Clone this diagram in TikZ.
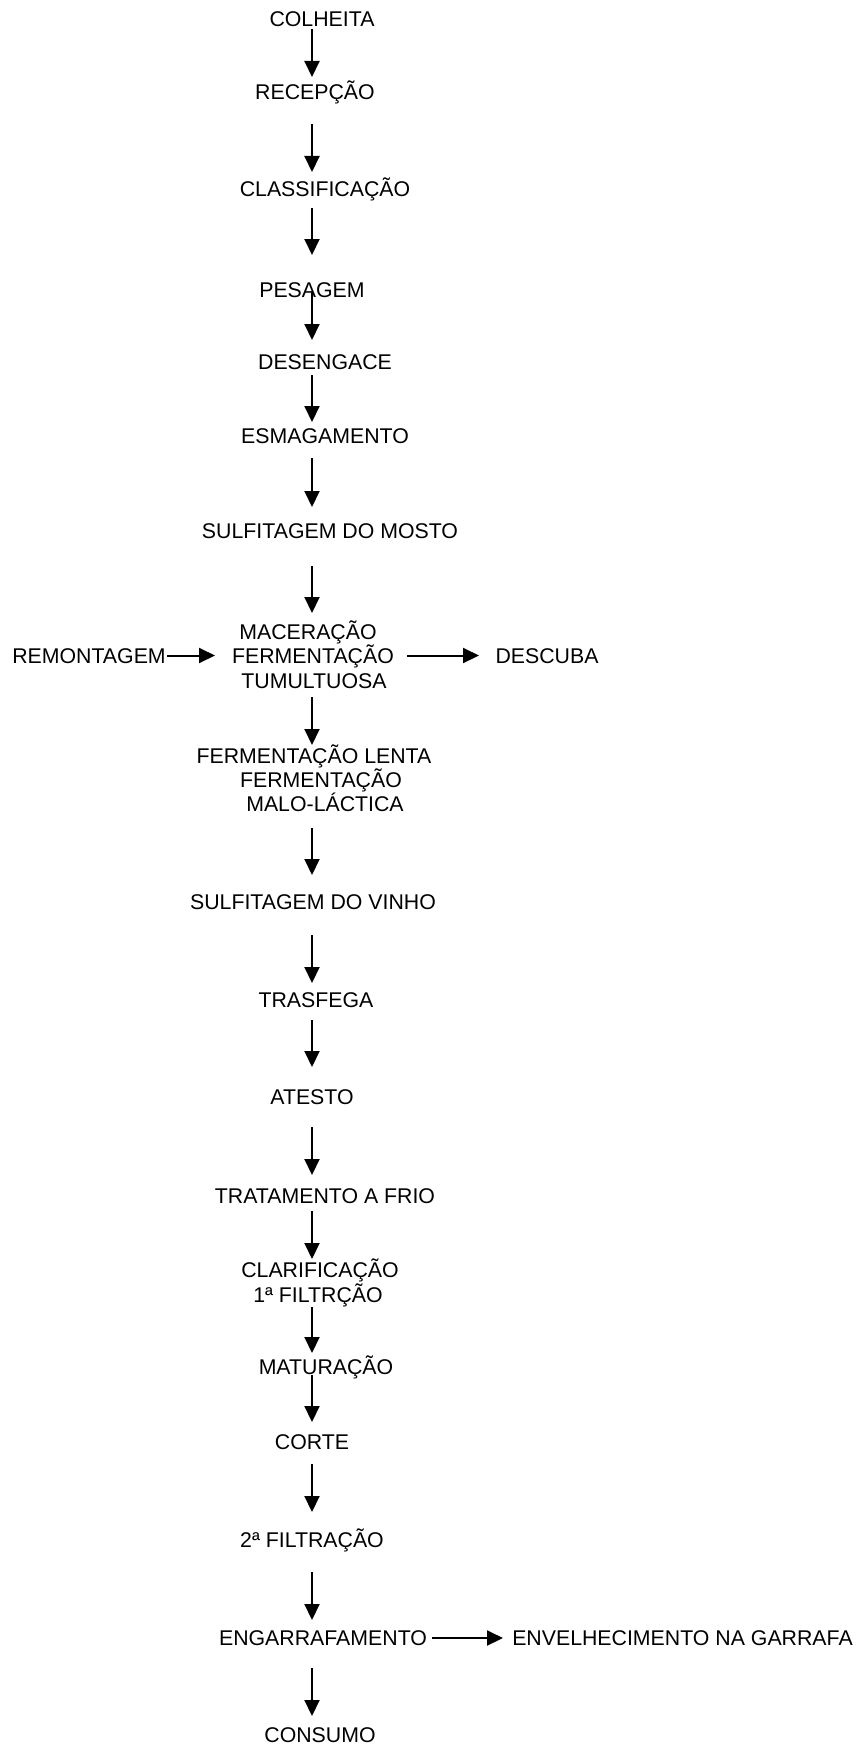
\documentclass[tikz,border=0pt]{standalone}
\usepackage{fontspec}
\setmainfont{Liberation Sans}
\usetikzlibrary{arrows.meta}
\begin{document}
\begin{tikzpicture}[x=1pt,y=1pt,
  lbl/.style={anchor=base,inner sep=0pt,outer sep=0pt,font=\fontsize{21.3}{24}\selectfont},
  arr/.style={line width=2pt,-{Triangle[length=16pt,width=15pt]}}]
\useasboundingbox (0,0) rectangle (858,-1747);
% text nodes (baseline = cap centre + 7.5)
\node[lbl] (colheita) at (322,-26.5) {COLHEITA};
\node[lbl] (recepcao) at (315,-99.5) {RECEPÇÃO};
\node[lbl] (classif) at (325,-196.5) {CLASSIFICAÇÃO};
\node[lbl] (pesagem) at (312,-297.5) {PESAGEM};
\node[lbl] (desengace) at (325,-369.5) {DESENGACE};
\node[lbl] (esmag) at (325,-443.5) {ESMAGAMENTO};
\node[lbl] (sulfmosto) at (330,-538.5) {SULFITAGEM DO MOSTO};
\node[lbl] (mac1) at (308,-639.5) {MACERAÇÃO};
\node[lbl] (mac2) at (313,-663.5) {FERMENTAÇÃO};
\node[lbl] (mac3) at (314,-688) {TUMULTUOSA};
\node[lbl] (remont) at (89,-663.5) {REMONTAGEM};
\node[lbl] (descuba) at (547,-663.5) {DESCUBA};
\node[lbl] (fl1) at (314,-763.5) {FERMENTAÇÃO LENTA};
\node[lbl] (fl2) at (321,-787.5) {FERMENTAÇÃO};
\node[lbl] (fl3) at (325,-811.5) {MALO-LÁCTICA};
\node[lbl] (sulfvinho) at (313,-909) {SULFITAGEM DO VINHO};
\node[lbl] (trasfega) at (316,-1007) {TRASFEGA};
\node[lbl] (atesto) at (312,-1104.5) {ATESTO};
\node[lbl] (tratam) at (325,-1203.5) {TRATAMENTO A FRIO};
\node[lbl] (cl1) at (320,-1277.5) {CLARIFICAÇÃO};
\node[lbl] (cl2) at (318,-1302) {1ª FILTRÇÃO};
\node[lbl] (matur) at (326,-1374.5) {MATURAÇÃO};
\node[lbl] (corte) at (312,-1449.5) {CORTE};
\node[lbl] (filt2) at (312,-1547) {2ª FILTRAÇÃO};
\node[lbl] (engarr) at (323,-1645) {ENGARRAFAMENTO};
\node[lbl] (envelh) at (682.5,-1645) {ENVELHECIMENTO NA GARRAFA};
\node[lbl] (consumo) at (320,-1742.5) {CONSUMO};
% connector end points
\foreach \n/\a/\b in {1/29/77, 2/124/172, 3/208/255, 4/292/340, 5/375/422,
  6/458/507, 7/566/613, 8/697/745, 9/828/875, 10/935/983, 11/1020/1067,
  12/1127/1175, 13/1211/1259, 14/1307/1353, 15/1375/1422, 16/1464/1512,
  17/1572/1620, 18/1668/1716}{
  \coordinate (s\n) at (312,-\a);
  \coordinate (e\n) at (312,-\b);
}
\coordinate (hs1) at (167,-655.5); \coordinate (he1) at (215,-655.5);
\coordinate (hs2) at (407,-655.5); \coordinate (he2) at (479,-655.5);
\coordinate (hs3) at (432,-1638); \coordinate (he3) at (503,-1638);
% connectors
\foreach \n in {1,...,18}{ \draw[arr] (s\n) -- (e\n); }
\foreach \n in {1,2,3}{ \draw[arr] (hs\n) -- (he\n); }
\end{tikzpicture}
\end{document}
